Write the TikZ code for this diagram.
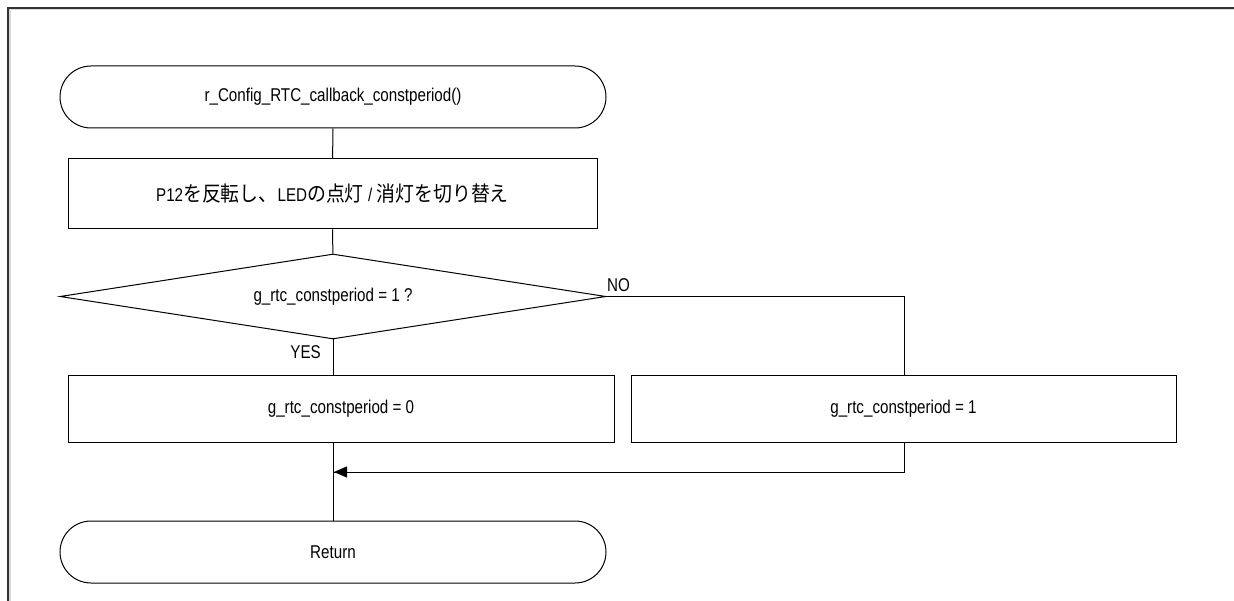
\documentclass[tikz,border=0pt]{standalone}
\usepackage{fontspec}
\setmainfont[FakeStretch=0.82]{Liberation Sans}
\newfontfamily\jpfont[FakeStretch=0.9]{Noto Sans CJK JP}
\usetikzlibrary{shapes.geometric,arrows.meta}
\tikzset{
  flow/.style={draw=black, line width=1pt},
  term/.style={flow, rounded corners=31pt, minimum height=62pt, inner sep=0pt},
  proc/.style={flow, rectangle, inner sep=0pt},
  dec/.style={flow, diamond, inner sep=0pt},
  lbl/.style={inner sep=0pt},
  conn/.style={line width=1pt},
}
\newcommand{\jp}[1]{{\jpfont\fontsize{21}{22}\selectfont #1}}
\begin{document}
\begin{tikzpicture}[x=1pt,y=-1pt, font=\fontsize{18.5}{20}\selectfont]
\useasboundingbox (0,0) rectangle (1234,601);
% outer frame
\draw[line width=2pt, gray!30] (9.5,602) -- (9.5,9.5) -- (1235,9.5);
\draw[line width=1.4pt, black!80] (8,602) -- (8,8) -- (1235,8);
% nodes
\node[term, minimum width=546pt] (start) at (333,97) {r\_Config\_RTC\_callback\_constperiod()};
\node[proc, minimum width=529pt, minimum height=70pt] (p1) at (332.5,194) {P12\jp{を反転し、}LED\jp{の点灯} / \jp{消灯を切り替え}};
\node[dec, minimum width=546pt, minimum height=85pt, aspect=6.4] (d1) at (333,296.5) {g\_rtc\_constperiod = 1 ?};
\node[proc, minimum width=546pt, minimum height=66pt] (yes) at (341,409) {g\_rtc\_constperiod = 0};
\node[proc, minimum width=545pt, minimum height=66pt] (no) at (903.5,409) {g\_rtc\_constperiod = 1};
\node[term, minimum width=546pt] (ret) at (333,552) {Return};
\coordinate (nocorner) at (904,296.5);
\coordinate (merge) at (333,472);
\coordinate (noend) at (904,472);
% connectors
\draw[conn] (start) -- (p1);
\draw[conn] (p1) -- (d1);
\draw[conn] (d1.south) -- (d1.south |- yes.north);
\draw[conn] (d1.east) -- (nocorner) -- (no.north -| nocorner);
\draw[conn] (no.south -| noend) -- (noend) -- (merge);
\draw[conn, -{Triangle[length=13pt,width=11pt]}] (noend) -- ([xshift=1pt]merge);
\draw[conn] (yes.south -| merge) -- (ret.north);
% labels
\node[lbl, anchor=south east] (yeslbl) at (321,359) {YES};
\node[lbl, anchor=south west] (nolbl) at (607,292) {NO};
\end{tikzpicture}
\end{document}
